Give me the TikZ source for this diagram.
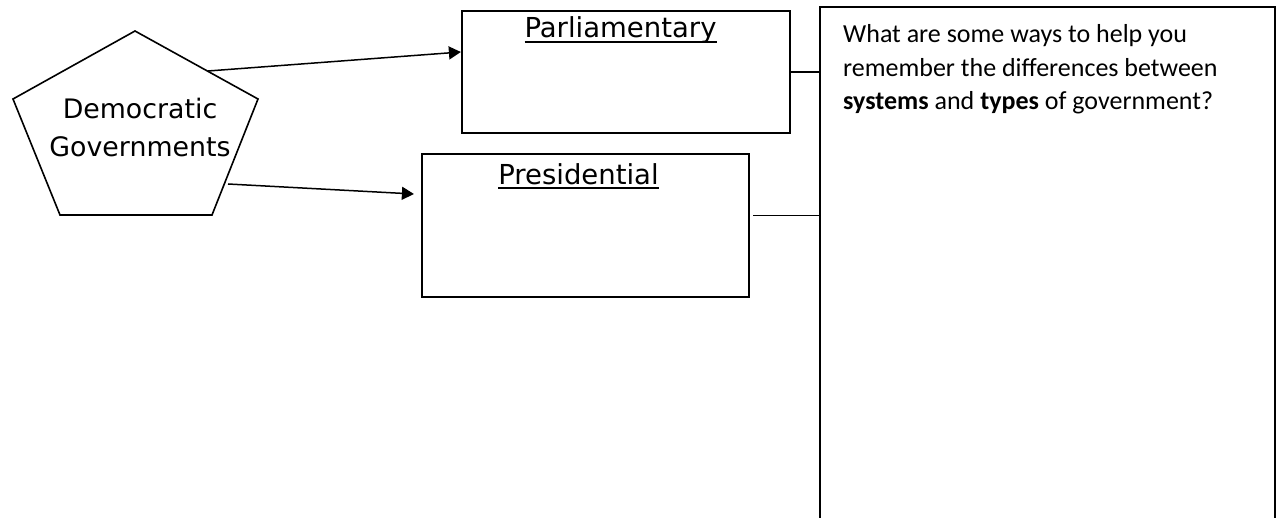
\documentclass[tikz,border=0pt]{standalone}
\usepackage{fontspec}
\usetikzlibrary{arrows.meta,calc}
\newfontfamily\dvfont{DejaVu Sans}
\newfontfamily\carlfont{Carlito}
\newcommand\ulx[2]{\setbox0\hbox{#2}\rlap{\rule[#1]{\wd0}{1.8pt}}\box0}
\tikzset{
  box/.style={draw, line width=2.2pt, rectangle, inner sep=0pt},
  notebox/.style={draw, line width=2.6pt, rectangle, inner sep=0pt},
  arr/.style={line width=1.5pt, -{Triangle[length=12pt,width=13pt]}},
  link/.style={line width=1.4pt},
  title/.style={font=\dvfont\fontsize{27.5}{32}\selectfont, inner sep=0pt, anchor=base},
}
\begin{document}
\begin{tikzpicture}[x=1pt,y=-1pt]
\useasboundingbox (0,0) rectangle (1282,518);
\clip (0,0) rectangle (1282,518);
\fill[white] (0,0) rectangle (1282,518);
% pentagon
\coordinate (pt) at (135,31);
\coordinate (pl) at (13,99);
\coordinate (pr) at (258,99);
\coordinate (pbl) at (60,215);
\coordinate (pbr) at (212,215);
\draw[line width=1.6pt, line join=miter] (pt) -- (pr) -- (pbr) -- (pbl) -- (pl) -- cycle;
\node[inner sep=0pt, anchor=base, font=\dvfont\fontsize{26.8}{38}\selectfont] (dem) at (140,119)
  {\vtop{\baselineskip=38pt\hbox to 0pt{\hss Democratic\hss}\hbox to 0pt{\hss Governments\hss}}};
\coordinate (s1) at (208,71);
\coordinate (s2) at (228,184);
% boxes
\node[box, minimum width=328pt, minimum height=122pt] (parl) at (626,72) {};
\node[box, minimum width=327pt, minimum height=143pt] (pres) at (585.5,225.5) {};
\node[notebox, minimum width=455pt, minimum height=553pt] (note) at (1047.5,283.5) {};
\node[title] (parlt) at (620.5,38) {\ulx{-5pt}{Parliamentary}};
\node[title] (prest) at (578.5,185) {\ulx{-4pt}{Presidential}};
\node[inner sep=0pt, anchor=base west, font=\carlfont\fontsize{26}{33.5}\selectfont] (q) at (843,43)
  {\vtop{\baselineskip=33.5pt\hbox{What are some ways to help you}\hbox{remember the differences between}\hbox{\textbf{systems} and \textbf{types} of government?}}};
% connectors
\draw[arr] (s1) -- ([yshift=20pt]parl.west);
\draw[arr] (s2) -- ([xshift=-7pt,yshift=31.5pt]pres.west);
\draw[link] (parl.east) -- (note.west |- parl.east);
\coordinate (pe) at ([xshift=3pt,yshift=10pt]pres.east);
\draw[link] (pe) -- (note.west |- pe);
\end{tikzpicture}
\end{document}
